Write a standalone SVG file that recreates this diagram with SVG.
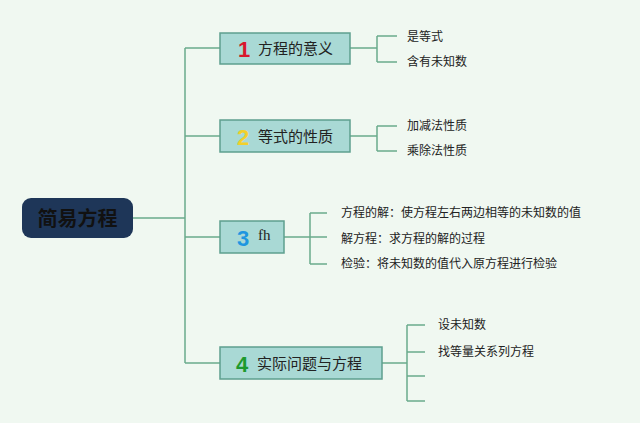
<svg xmlns="http://www.w3.org/2000/svg" width="640" height="423" viewBox="0 0 640 423">
<style>
.ln{fill:none;stroke:#6aaa8c;stroke-width:1.5}
.box{fill:#a9d9d5;stroke:#5e9f8e;stroke-width:1.5}
.t{font-family:"Noto Sans CJK SC",sans-serif;font-size:15px;fill:#222}
.s{font-family:"Noto Sans CJK SC",sans-serif;font-size:12px;fill:#222}
.n{font-family:"Liberation Sans",sans-serif;font-size:22px;font-weight:bold}
</style>
<rect width="640" height="423" fill="#f0f8f1"/>
<g id="connectors">
<path class="ln" d="M133 218H185M185 48V363M185 48H220M185 136H220M185 237H220M185 363H220"/>
<path class="ln" d="M350 48H377M377 36V62M377 36H397M377 62H397"/>
<path class="ln" d="M350 136H377M377 126V151M377 126H397M377 151H397"/>
<path class="ln" d="M284 237H327M310 213V264M310 213H327M310 264H327"/>
<path class="ln" d="M382 363H407M407 325V401M407 325H425M407 352H425M407 376H425M407 401H425"/>
</g>
<g id="root"><rect x="22" y="198" width="111" height="40" rx="9" fill="#1e3658"/><text x="77.5" y="226" text-anchor="middle" font-family="Noto Sans CJK SC,sans-serif" font-size="20" font-weight="bold" fill="#111">简易方程</text></g>
<g id="n1"><rect class="box" x="220" y="33" width="130" height="31"/><text class="n" x="238" y="57" fill="#d8182c">1</text><text class="t" x="258" y="54">方程的意义</text></g>
<g id="n2"><rect class="box" x="220" y="120" width="130" height="32"/><text class="n" x="237" y="145" fill="#f2d02a">2</text><text class="t" x="258" y="142">等式的性质</text></g>
<g id="n3"><rect class="box" x="220" y="221" width="64" height="32"/><text class="n" x="237" y="246" fill="#1e96e0">3</text><text x="258" y="240" font-family="Liberation Serif,serif" font-size="15" fill="#222">fh</text></g>
<g id="n4"><rect class="box" x="220" y="347" width="162" height="32"/><text class="n" x="236" y="372" fill="#1e9a2e">4</text><text class="t" x="257" y="369">实际问题与方程</text></g>
<g id="leaves">
<text class="s" x="407" y="41">是等式</text>
<text class="s" x="407" y="66">含有未知数</text>
<text class="s" x="407" y="130">加减法性质</text>
<text class="s" x="407" y="155">乘除法性质</text>
<text class="s" x="341" y="217">方程的解：使方程左右两边相等的未知数的值</text>
<text class="s" x="341" y="243">解方程：求方程的解的过程</text>
<text class="s" x="341" y="268">检验：将未知数的值代入原方程进行检验</text>
<text class="s" x="438" y="329">设未知数</text>
<text class="s" x="438" y="356">找等量关系列方程</text>
</g>
</svg>
